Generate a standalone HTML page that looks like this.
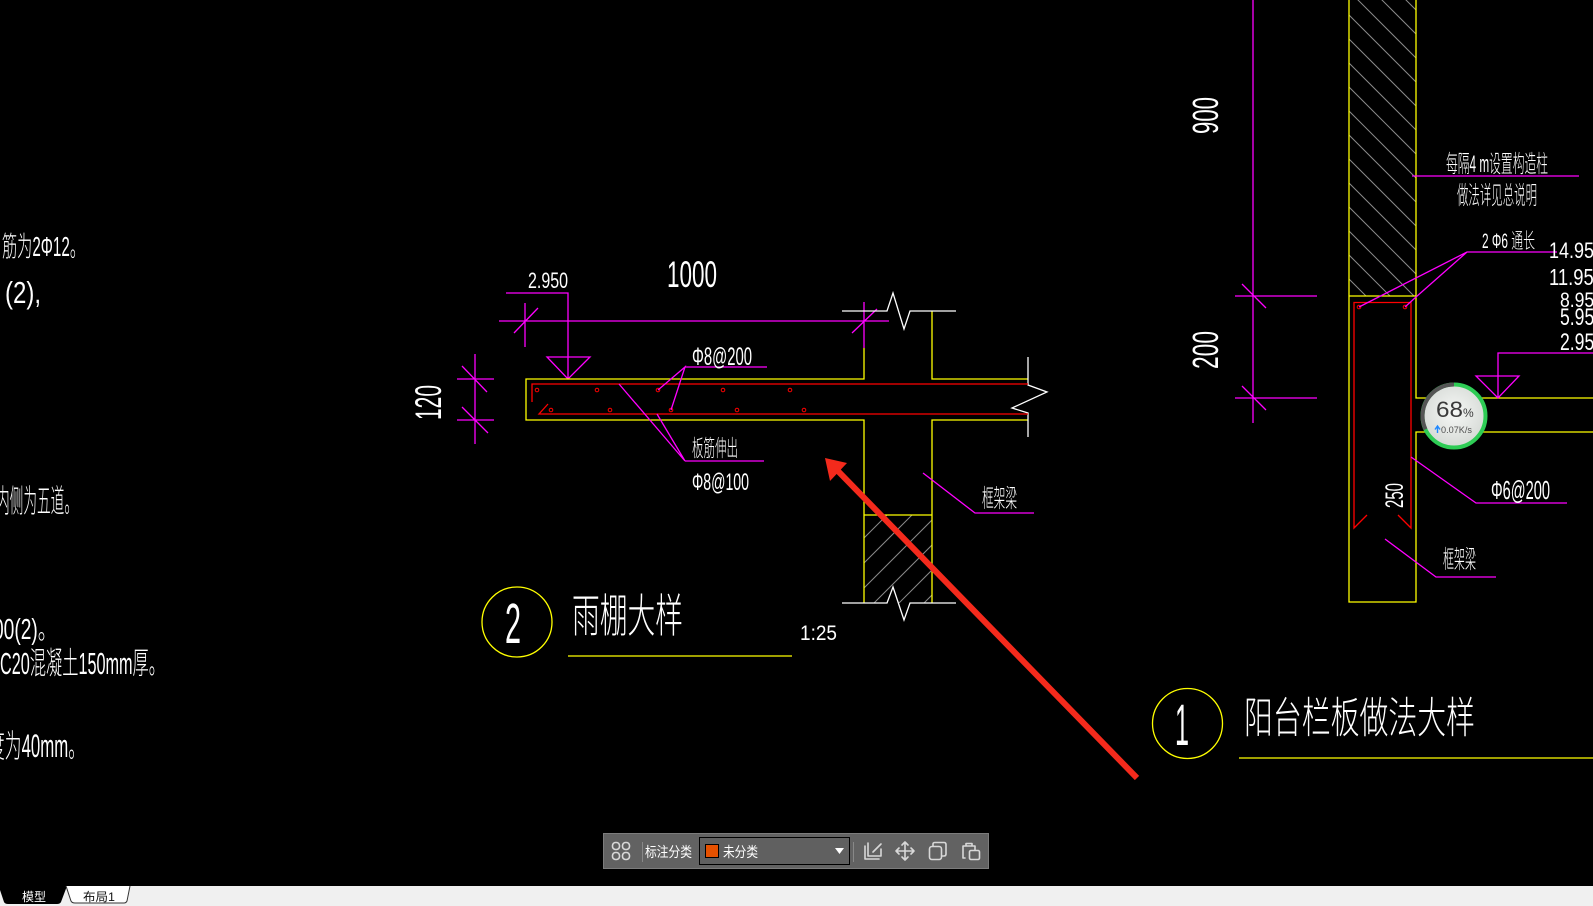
<!DOCTYPE html>
<html><head><meta charset="utf-8"><style>
html,body{margin:0;padding:0;background:#000;width:1593px;height:906px;overflow:hidden}
svg{display:block}
text{font-family:"Liberation Sans","Noto Sans CJK SC",sans-serif;fill:#fff}
.c{font-weight:300}
.y{stroke:#ffff00;stroke-width:1.3;fill:none}
.m{stroke:#ff00ff;stroke-width:1.3;fill:none}
.r{stroke:#ff0000;stroke-width:1.3;fill:none}
.w{stroke:#ffffff;stroke-width:1.3;fill:none}
.h{stroke:#8a8a8a;stroke-width:1;fill:none}
.ic{stroke:#d8d8d8;stroke-width:1.6;fill:none;stroke-linejoin:round;stroke-linecap:round}
</style></head><body>
<svg width="1593" height="906" viewBox="0 0 1593 906" xmlns="http://www.w3.org/2000/svg">
<rect width="1593" height="906" fill="#000"/>
<defs>
<clipPath id="h1"><rect x="864" y="515" width="68" height="88"/></clipPath>
<clipPath id="h2"><rect x="1349" y="0" width="67" height="296"/></clipPath>
<radialGradient id="cg" cx="50%" cy="45%" r="55%"><stop offset="0" stop-color="#f6f8f6"/><stop offset="1" stop-color="#d6dad6"/></radialGradient>
</defs>

<!-- ============ LEFT TEXT ============ -->
<text class="c" x="2" y="256" font-size="28" textLength="83" lengthAdjust="spacingAndGlyphs">筋为2Φ12。</text>
<text x="5" y="303" font-size="31" textLength="36" lengthAdjust="spacingAndGlyphs">(2),</text>
<text class="c" x="-4" y="512" font-size="32" textLength="82" lengthAdjust="spacingAndGlyphs">内侧为五道。</text>
<text class="c" x="-7" y="639" font-size="29" textLength="64" lengthAdjust="spacingAndGlyphs">00(2)。</text>
<text class="c" x="0" y="674" font-size="31" textLength="165" lengthAdjust="spacingAndGlyphs">C20混凝土150mm厚。</text>
<text class="c" x="-12" y="757" font-size="32" textLength="97" lengthAdjust="spacingAndGlyphs">度为40mm。</text>

<!-- ============ DETAIL 2 (canopy) ============ -->
<!-- dimension 1000 -->
<path class="m" d="M499,321 H889 M525,303 V347 M514,333 L538,308 M864,302 V348 M852,333 L877,309"/>
<text x="667" y="287" font-size="37" textLength="50" lengthAdjust="spacingAndGlyphs">1000</text>
<!-- elevation 2.950 -->
<path class="m" d="M506,293 H568 V379 M547,357 H590 L568,379 Z"/>
<text x="528" y="288" font-size="22" textLength="40" lengthAdjust="spacingAndGlyphs">2.950</text>
<!-- dim 120 -->
<path class="m" d="M475,354 V444 M457,379 H494 M457,420 H494 M462,366 L487,392 M462,407 L488,433"/>
<text transform="translate(441,420) rotate(-90)" x="0" y="0" font-size="37" textLength="35" lengthAdjust="spacingAndGlyphs">120</text>

<!-- hatch box -->
<g clip-path="url(#h1)">
<path class="h" d="M864,538 L933,469 M864,563 L933,494 M864,588 L933,519 M864,613 L933,544 M864,638 L933,569 M864,663 L933,594"/>
</g>
<!-- yellow outline -->
<path class="y" d="M864,348 V379 H526 V420 H864 V603 M932,311 V379 H1028 M932,603 V420 H1028 M864,515 H932"/>
<!-- white break lines -->
<path class="w" d="M842,311 H887 L893,293 L904,329 L910,311 H956"/>
<path class="w" d="M842,603 H887 L893,587 L904,620 L910,603 H956"/>
<path class="w" d="M1028,357 V385 L1047,392 L1012,408 L1028,413 V437"/>
<!-- red rebar -->
<path class="r" d="M532,402 V384 H1028 M548,404 L539,414 H1028"/>
<g fill="none" stroke="#ff0000" stroke-width="1">
<circle cx="537" cy="390" r="1.8"/><circle cx="597" cy="390" r="1.8"/><circle cx="658" cy="390" r="1.8"/><circle cx="723" cy="390" r="1.8"/><circle cx="790" cy="390" r="1.8"/>
<circle cx="551" cy="410" r="1.8"/><circle cx="610" cy="410" r="1.8"/><circle cx="671" cy="410" r="1.8"/><circle cx="737" cy="410" r="1.8"/><circle cx="804" cy="410" r="1.8"/>
</g>
<!-- leaders -->
<path class="m" d="M658,390 L685,367 L671,410 M685,367 H767"/>
<text x="692" y="365" font-size="25" textLength="60" lengthAdjust="spacingAndGlyphs">Φ8@200</text>
<path class="m" d="M619,384 L685,461 L657,414 M685,461 H764"/>
<text class="c" x="692" y="456" font-size="23" textLength="46" lengthAdjust="spacingAndGlyphs">板筋伸出</text>
<text x="692" y="490" font-size="24" textLength="57" lengthAdjust="spacingAndGlyphs">Φ8@100</text>
<path class="m" d="M923,473 L975,513 H1034"/>
<text class="c" x="982" y="507" font-size="25" textLength="35" lengthAdjust="spacingAndGlyphs">框架梁</text>

<!-- title 2 -->
<circle cx="517" cy="622" r="35" class="y"/>
<text x="505" y="643" font-size="57" textLength="16" lengthAdjust="spacingAndGlyphs">2</text>
<text class="c" x="572" y="632" font-size="46" textLength="111" lengthAdjust="spacingAndGlyphs">雨棚大样</text>
<path class="y" d="M568,656 H792"/>
<text x="800" y="640" font-size="21" textLength="37" lengthAdjust="spacingAndGlyphs">1:25</text>

<!-- ============ DETAIL 1 (balcony) ============ -->
<path class="m" d="M1253,0 V423 M1235,296 H1317 M1235,398 H1317 M1242,284 L1266,308 M1242,386 L1266,410"/>
<text transform="translate(1218,134) rotate(-90)" x="0" y="0" font-size="36" textLength="37" lengthAdjust="spacingAndGlyphs">900</text>
<text transform="translate(1218,369) rotate(-90)" x="0" y="0" font-size="36" textLength="38" lengthAdjust="spacingAndGlyphs">200</text>

<g clip-path="url(#h2)">
<path class="h" d="M1349,-57 L1416,10 M1349,-33 L1416,34 M1349,-9 L1416,58 M1349,15 L1416,82 M1349,39 L1416,106 M1349,63 L1416,130 M1349,87 L1416,154 M1349,111 L1416,178 M1349,135 L1416,202 M1349,159 L1416,226 M1349,183 L1416,250 M1349,207 L1416,274 M1349,231 L1416,298 M1349,255 L1416,322 M1349,279 L1416,346"/>
</g>
<path class="y" d="M1349,0 V602 H1416 V432 H1593 M1416,0 V398 H1593 M1349,296 H1416"/>
<path class="r" d="M1367,515 L1354,528 V302.5 H1411 V528 L1398,515"/>
<g fill="none" stroke="#ff0000" stroke-width="1"><circle cx="1359" cy="307" r="1.8"/><circle cx="1405" cy="307" r="1.8"/></g>
<text transform="translate(1403,508) rotate(-90)" x="0" y="0" font-size="25" textLength="25" lengthAdjust="spacingAndGlyphs">250</text>

<!-- leaders right -->
<path class="m" d="M1412,176 H1579"/>
<text class="c" x="1446" y="172" font-size="24" textLength="102" lengthAdjust="spacingAndGlyphs">每隔4 m设置构造柱</text>
<text class="c" x="1457" y="204" font-size="25" textLength="80" lengthAdjust="spacingAndGlyphs">做法详见总说明</text>
<path class="m" d="M1359,307 L1467,252 H1557 M1467,252 L1416,297 L1405,307"/>
<text class="c" x="1482" y="248" font-size="21" textLength="53" lengthAdjust="spacingAndGlyphs">2 Φ6 通长</text>
<text x="1549" y="258" font-size="22" textLength="55" lengthAdjust="spacingAndGlyphs">14.950</text>
<text x="1549" y="285" font-size="23" textLength="55" lengthAdjust="spacingAndGlyphs">11.950</text>
<text x="1560" y="307" font-size="21" textLength="44" lengthAdjust="spacingAndGlyphs">8.950</text>
<text x="1560" y="325" font-size="24" textLength="44" lengthAdjust="spacingAndGlyphs">5.950</text>
<text x="1560" y="350" font-size="24" textLength="44" lengthAdjust="spacingAndGlyphs">2.950</text>
<path class="m" d="M1498,398 V353 H1593 M1476,376 H1519 L1498,398 Z"/>
<path class="m" d="M1411,457 L1476,503 H1567"/>
<text x="1491" y="499" font-size="26" textLength="59" lengthAdjust="spacingAndGlyphs">Φ6@200</text>
<path class="m" d="M1385,539 L1436,577 H1496"/>
<text class="c" x="1443" y="568" font-size="25" textLength="33" lengthAdjust="spacingAndGlyphs">框架梁</text>

<!-- title 1 -->
<circle cx="1187.5" cy="723.5" r="35" class="y"/>
<text x="1175" y="745" font-size="58" textLength="14" lengthAdjust="spacingAndGlyphs">1</text>
<text class="c" x="1244" y="733" font-size="43" textLength="231" lengthAdjust="spacingAndGlyphs">阳台栏板做法大样</text>
<path class="y" d="M1239,758 H1593"/>

<!-- ============ RED ARROW ============ -->
<line x1="1137" y1="778" x2="836" y2="469" stroke="#f42a1c" stroke-width="6"/>
<polygon points="825,458 847,463 830,481" fill="#f42a1c"/>

<!-- ============ NET WIDGET ============ -->
<circle cx="1454" cy="416" r="31" fill="url(#cg)"/>
<circle cx="1454" cy="416" r="31.5" fill="none" stroke="#2ecc55" stroke-width="4"/>
<path d="M1425.5,429.3 A31.5,31.5 0 0 1 1454,384.5" fill="none" stroke="#555" stroke-width="4"/>
<text x="1436" y="417" font-size="22" textLength="27" lengthAdjust="spacingAndGlyphs" style="fill:#3a3a3a">68</text>
<text x="1463" y="417" font-size="12" style="fill:#3a3a3a">%</text>
<path d="M1437.5,433 V427 M1435,429.5 L1437.5,426 L1440,429.5" stroke="#1e88ff" stroke-width="1.4" fill="none"/>
<text x="1441" y="433" font-size="9.5" textLength="31" lengthAdjust="spacingAndGlyphs" style="fill:#505050">0.07K/s</text>

<!-- ============ TOOLBAR ============ -->
<rect x="603.5" y="833.5" width="385" height="35" fill="#626262" stroke="#7c7c7c"/>
<g class="ic">
<rect x="612.5" y="842.5" width="7" height="7" rx="3"/><rect x="622.5" y="842.5" width="7" height="7" rx="3"/>
<rect x="612.5" y="852.5" width="7" height="7" rx="3"/><rect x="622.5" y="852.5" width="7" height="7" rx="3"/>
</g>
<path d="M642.5,842 V862 M853.5,842 V862" stroke="#888" stroke-width="1"/>
<text x="645" y="857" font-size="14" textLength="47" lengthAdjust="spacingAndGlyphs">标注分类</text>
<rect x="699.5" y="837.5" width="150" height="27" fill="#606060" stroke="#000"/>
<rect x="705.5" y="844.5" width="13" height="13" fill="#e65100" stroke="#000"/>
<text x="723" y="857" font-size="14" textLength="35" lengthAdjust="spacingAndGlyphs">未分类</text>
<path d="M835,848 H844 L839.5,854 Z" fill="#fff"/>
<g class="ic">
<path d="M865,846 V859 H879 M868,843 V856 H881 V849 M873,852 L881,844"/>
<path d="M905,842 V860 M896,851 H914 M902,845 L905,842 L908,845 M902,857 L905,860 L908,857 M899,848 L896,851 L899,854 M911,848 L914,851 L911,854"/>
<rect x="929.5" y="846.5" width="12" height="13" rx="2.5"/><path d="M933,846 V844 Q933,842.5 935,842.5 H944 Q946,842.5 946,844.5 V854 Q946,856 944,856 H942"/>
<path d="M965,858 H963 V846 H966 M966,843.5 H972 V846 H966 Z M972,846 H975 V850"/><rect x="969.5" y="850.5" width="10" height="9" rx="1.5"/>
</g>

<!-- ============ BOTTOM TABS ============ -->
<rect x="0" y="886" width="1593" height="20" fill="#f0f0f0"/>
<path d="M0,886 H67 L61,902 Q60,904 57,904 H8 Q5,904 4,902 L0,890 Z" fill="#000"/>
<text x="22" y="901" font-size="12" textLength="24" lengthAdjust="spacingAndGlyphs">模型</text>
<path d="M66,886 L71,901 Q72,903 75,903 H124 Q126,903 127,901 L130,886" fill="#fff" stroke="#333" stroke-width="1"/>
<text x="83" y="901" font-size="12" textLength="32" lengthAdjust="spacingAndGlyphs" style="fill:#111">布局1</text>
</svg>
</body></html>
